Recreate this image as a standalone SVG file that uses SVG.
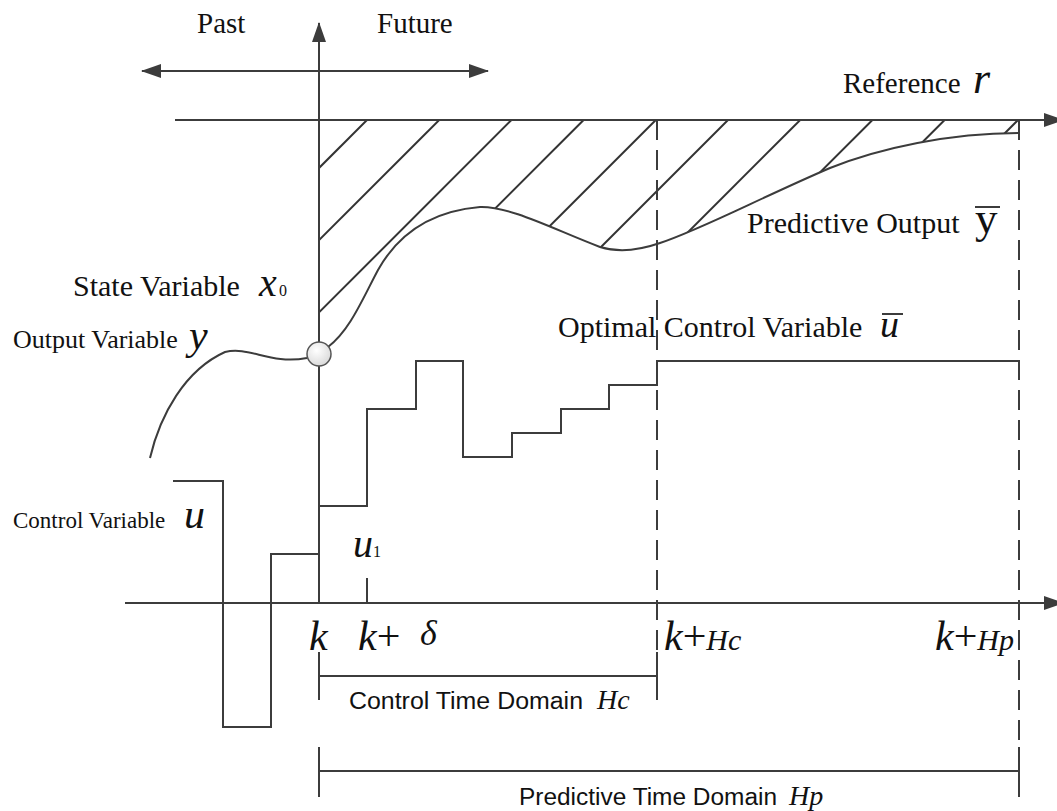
<svg xmlns="http://www.w3.org/2000/svg" width="1057" height="811" viewBox="0 0 1057 811">
  <defs>
    <style>
      .ln { fill: none; stroke: #3c3c3c; stroke-width: 2; }
      .dash { fill: none; stroke: #3c3c3c; stroke-width: 2; stroke-dasharray: 20 10; }
      .hatch { fill: none; stroke: #333; stroke-width: 2; }
      .serif { font-family: "Liberation Serif", "Times New Roman", serif; fill: #111; }
      .it { font-family: "Liberation Serif", "Times New Roman", serif; font-style: italic; fill: #111; }
      .sans { font-family: "Liberation Sans", Arial, sans-serif; fill: #111; }
    </style>
    <marker id="ah" markerWidth="20" markerHeight="14" refX="19" refY="7" orient="auto-start-reverse" markerUnits="userSpaceOnUse">
      <path d="M0,0 L20,7 L0,14 Z" fill="#3c3c3c"/>
    </marker>
    <radialGradient id="knob" cx="0.4" cy="0.35" r="0.7">
      <stop offset="0" stop-color="#ffffff"/>
      <stop offset="1" stop-color="#d8d8d8"/>
    </radialGradient>
    <!-- area between reference line and predicted output -->
    <clipPath id="gap">
      <path d="M319,354 L328,347 C350,330 362,300 378,270 C392,245 420,212 480,207 C510,206 555,230 600,247 C620,253 640,250 660,243 C700,230 760,198 830,168 C880,148 950,133 1019,133 L1019,120 L319,120 Z"/>
    </clipPath>
  </defs>

  <rect width="1057" height="811" fill="#ffffff"/>

  <!-- hatching of the tracking error region -->
  <g id="hatching" clip-path="url(#gap)" class="hatch">
    <line x1="367" y1="120" x2="67" y2="420"/>
    <line x1="439.2" y1="120" x2="139.2" y2="420"/>
    <line x1="511.4" y1="120" x2="211.4" y2="420"/>
    <line x1="583.6" y1="120" x2="283.6" y2="420"/>
    <line x1="655.8" y1="120" x2="355.8" y2="420"/>
    <line x1="728" y1="120" x2="428" y2="420"/>
    <line x1="800.2" y1="120" x2="500.2" y2="420"/>
    <line x1="872.4" y1="120" x2="572.4" y2="420"/>
    <line x1="944.6" y1="120" x2="644.6" y2="420"/>
    <line x1="1018" y1="120" x2="718" y2="420"/>
  </g>

  <!-- axes and direction arrows -->
  <g id="axes" class="ln">
    <line x1="319" y1="603" x2="319" y2="23" marker-end="url(#ah)"/>
    <line x1="142" y1="71" x2="488" y2="71" marker-start="url(#ah)" marker-end="url(#ah)"/>
    <line x1="175" y1="120" x2="1063" y2="120" marker-end="url(#ah)"/>
    <line x1="125" y1="603" x2="1063" y2="603" marker-end="url(#ah)"/>
    <line x1="367" y1="578" x2="367" y2="603"/>
  </g>

  <!-- horizon boundaries -->
  <g id="horizons">
    <line class="dash" x1="657" y1="120" x2="657" y2="652"/>
    <line class="dash" x1="1019" y1="120" x2="1019" y2="747"/>
  </g>

  <!-- output history and predicted output -->
  <g id="outputs" class="ln">
    <path d="M150,458 C160,415 185,370 225,352 C250,346 270,365 307,358"/>
    <path d="M328,347 C350,330 362,300 378,270 C392,245 420,212 480,207 C510,206 555,230 600,247 C620,253 640,250 660,243 C700,230 760,198 830,168 C880,148 950,133 1019,133"/>
  </g>

  <!-- current state marker -->
  <g id="state-point">
    <circle cx="319" cy="354" r="12" fill="url(#knob)" stroke="#555" stroke-width="1.5"/>
  </g>

  <!-- control input staircases -->
  <g id="controls" class="ln">
    <path d="M173,481 H223 V727 H271 V554 H319"/>
    <path d="M319,506 H367 V409 H416 V361 H463 V457 H512 V433 H561 V409 H609 V385 H657 V361 H1019"/>
  </g>

  <!-- time domain brackets -->
  <g id="brackets" class="ln">
    <line x1="319" y1="676" x2="657" y2="676"/>
    <line x1="319" y1="652" x2="319" y2="700"/>
    <line x1="657" y1="652" x2="657" y2="700"/>
    <line x1="319" y1="771" x2="1019" y2="771"/>
    <line x1="319" y1="747" x2="319" y2="797"/>
    <line x1="1019" y1="747" x2="1019" y2="797"/>
  </g>

  <!-- labels -->
  <g id="labels">
    <text class="serif" x="197" y="33" font-size="29">Past</text>
    <text class="serif" x="377" y="33" font-size="29">Future</text>

    <text class="serif" x="843" y="93" font-size="29">Reference</text>
    <text class="it" x="973" y="93" font-size="44">r</text>

    <text class="serif" x="73" y="296" font-size="30">State Variable</text>
    <text class="it" x="259" y="296" font-size="40">x</text>
    <text class="serif" x="279" y="296" font-size="16">0</text>

    <text class="serif" x="13" y="348" font-size="26">Output Variable</text>
    <text class="it" x="189" y="349" font-size="42">y</text>

    <text class="serif" x="13" y="528" font-size="23">Control Variable</text>
    <text class="it" x="184" y="528" font-size="42">u</text>

    <text class="it" x="353" y="557" font-size="40">u</text>
    <text class="serif" x="373" y="557" font-size="16">1</text>

    <text class="serif" x="558" y="337" font-size="30">Optimal Control Variable</text>
    <text class="it" x="880" y="337" font-size="38">u</text>
    <line class="ln" x1="882" y1="314" x2="903" y2="314"/>

    <text class="serif" x="747" y="233" font-size="30">Predictive Output</text>
    <text class="serif" x="975" y="233" font-size="45">y</text>
    <line class="ln" x1="975" y1="207" x2="1000" y2="207"/>

    <text class="it" x="309" y="650" font-size="42">k</text>
    <text class="it" x="358" y="650" font-size="42">k<tspan font-style="normal">+</tspan></text>
    <text class="it" x="420" y="645" font-size="36">δ</text>

    <text class="it" x="664" y="650" font-size="42">k<tspan font-style="normal">+</tspan><tspan font-size="30">Hc</tspan></text>
    <text class="it" x="935" y="650" font-size="42">k<tspan font-style="normal">+</tspan><tspan font-size="30">Hp</tspan></text>

    <text class="sans" x="349" y="709" font-size="23" textLength="234" lengthAdjust="spacingAndGlyphs">Control Time Domain</text>
    <text class="it" x="597" y="709" font-size="28">Hc</text>

    <text class="sans" x="519" y="805" font-size="23" textLength="258" lengthAdjust="spacingAndGlyphs">Predictive Time Domain</text>
    <text class="it" x="789" y="805" font-size="28">Hp</text>
  </g>
</svg>
